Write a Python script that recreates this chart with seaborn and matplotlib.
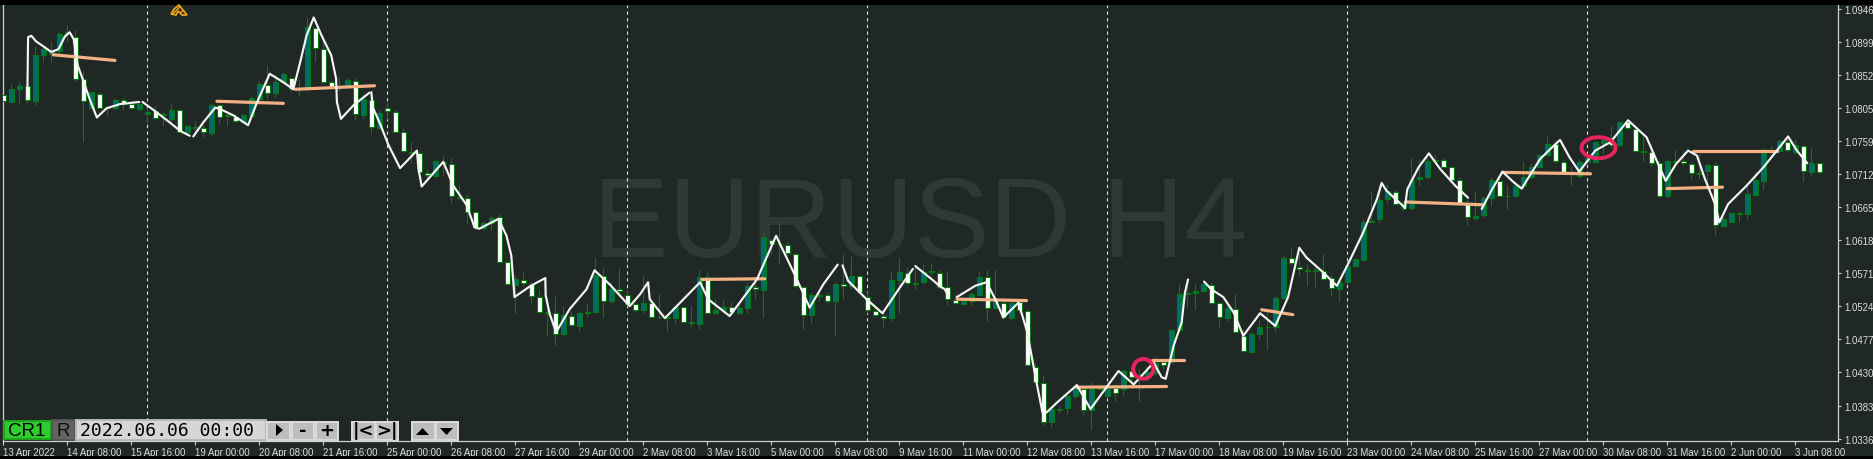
import matplotlib
matplotlib.use("Agg")
import matplotlib.pyplot as plt
import numpy as np
import pandas as pd
import seaborn as sns
from matplotlib.patches import Ellipse, Polygon, Rectangle

W, H = 1873, 460

# EURUSD H4 candles. B = up bar (teal), W = down bar (white)
candle_kind = (
    "WBBWBBBBBW" "WBWBBWWBBW" "BBWBBWBWBW" "BBBWBBWBBW" "WWBBWBWBWW"
    "WBWWBBWBWW" "BBWWBWWWBW" "BWBBBWBWWW" "BWBBBWBBWB" "BWBBWBWBWW"
    "WBBWBWBWWW" "WBBWBBWWWW" "BBBWBWBWWW" "WBBBBWBBBW" "BWBBBWBBBB"
    "BWWBWWBBBB" "BWWWBWWBBB" "BBBBWBBBBB" "WWWWBBBWBB" "BBBBWWBBBB"
    "BWBWWBWWBB" "WWBBWBBBBB" "BBBWBWBW"
)
body_top = [
    1.0824, 1.0833, 1.0836, 1.0836, 1.0881, 1.0889, 1.0888, 1.0911, 1.0913, 1.0906,
    1.0846, 1.0828, 1.0826, 1.0806, 1.0817, 1.0817, 1.0811, 1.0811, 1.0800, 1.0801,
    1.0797, 1.0803, 1.0803, 1.0780, 1.0779, 1.0777, 1.0809, 1.0809, 1.0795, 1.0793,
    1.0795, 1.0819, 1.0839, 1.0838, 1.0842, 1.0853, 1.0848, 1.0833, 1.0920, 1.0919,
    1.0889, 1.0843, 1.0836, 1.0845, 1.0844, 1.0818, 1.0817, 1.0799, 1.0806, 1.0800,
    1.0772, 1.0743, 1.0742, 1.0713, 1.0730, 1.0729, 1.0726, 1.0679, 1.0678, 1.0658,
    1.0642, 1.0649, 1.0650, 1.0587, 1.0562, 1.0561, 1.0555, 1.0537, 1.0516, 1.0514,
    1.0512, 1.0510, 1.0515, 1.0516, 1.0568, 1.0567, 1.0549, 1.0548, 1.0540, 1.0527,
    1.0528, 1.0528, 1.0509, 1.0508, 1.0523, 1.0523, 1.0501, 1.0566, 1.0565, 1.0519,
    1.0523, 1.0523, 1.0521, 1.0552, 1.0551, 1.0622, 1.0618, 1.0613, 1.0611, 1.0598,
    1.0551, 1.0540, 1.0540, 1.0540, 1.0556, 1.0555, 1.0567, 1.0567, 1.0537, 1.0517,
    1.0510, 1.0561, 1.0573, 1.0571, 1.0557, 1.0573, 1.0574, 1.0571, 1.0551, 1.0533,
    1.0532, 1.0541, 1.0566, 1.0565, 1.0534, 1.0529, 1.0529, 1.0530, 1.0517, 1.0438,
    1.0415, 1.0378, 1.0378, 1.0396, 1.0409, 1.0407, 1.0407, 1.0408, 1.0407, 1.0408,
    1.0432, 1.0432, 1.0425, 1.0430, 1.0444, 1.0445, 1.0490, 1.0542, 1.0543, 1.0546,
    1.0555, 1.0554, 1.0528, 1.0522, 1.0520, 1.0482, 1.0485, 1.0495, 1.0495, 1.0536,
    1.0593, 1.0593, 1.0579, 1.0576, 1.0575, 1.0574, 1.0564, 1.0558, 1.0581, 1.0591,
    1.0644, 1.0645, 1.0675, 1.0688, 1.0686, 1.0671, 1.0703, 1.0707, 1.0730, 1.0731,
    1.0732, 1.0721, 1.0703, 1.0670, 1.0652, 1.0678, 1.0703, 1.0702, 1.0681, 1.0695,
    1.0707, 1.0722, 1.0738, 1.0754, 1.0754, 1.0729, 1.0714, 1.0729, 1.0735, 1.0757,
    1.0760, 1.0758, 1.0785, 1.0785, 1.0775, 1.0744, 1.0743, 1.0727, 1.0730, 1.0730,
    1.0730, 1.0726, 1.0713, 1.0725, 1.0725, 1.0648, 1.0656, 1.0656, 1.0683, 1.0703,
    1.0742, 1.0744, 1.0758, 1.0757, 1.0753, 1.0751, 1.0728, 1.0727,
]
body_bottom = [
    1.0816, 1.0814, 1.0833, 1.0817, 1.0816, 1.0881, 1.0882, 1.0887, 1.0910, 1.0846,
    1.0815, 1.0806, 1.0806, 1.0805, 1.0805, 1.0811, 1.0805, 1.0804, 1.0797, 1.0791,
    1.0796, 1.0790, 1.0772, 1.0772, 1.0777, 1.0771, 1.0770, 1.0793, 1.0794, 1.0787,
    1.0786, 1.0794, 1.0818, 1.0827, 1.0827, 1.0842, 1.0832, 1.0832, 1.0833, 1.0890,
    1.0842, 1.0835, 1.0835, 1.0836, 1.0797, 1.0796, 1.0778, 1.0777, 1.0801, 1.0772,
    1.0744, 1.0742, 1.0714, 1.0711, 1.0709, 1.0728, 1.0680, 1.0678, 1.0658, 1.0636,
    1.0635, 1.0642, 1.0587, 1.0555, 1.0554, 1.0557, 1.0538, 1.0516, 1.0515, 1.0484,
    1.0485, 1.0497, 1.0496, 1.0515, 1.0516, 1.0531, 1.0531, 1.0545, 1.0527, 1.0518,
    1.0518, 1.0509, 1.0508, 1.0507, 1.0507, 1.0501, 1.0500, 1.0499, 1.0515, 1.0515,
    1.0518, 1.0516, 1.0515, 1.0521, 1.0548, 1.0547, 1.0613, 1.0612, 1.0599, 1.0552,
    1.0511, 1.0511, 1.0539, 1.0531, 1.0531, 1.0552, 1.0552, 1.0544, 1.0518, 1.0511,
    1.0507, 1.0507, 1.0561, 1.0557, 1.0556, 1.0558, 1.0573, 1.0551, 1.0534, 1.0528,
    1.0527, 1.0532, 1.0540, 1.0521, 1.0521, 1.0508, 1.0507, 1.0518, 1.0440, 1.0417,
    1.0359, 1.0359, 1.0377, 1.0379, 1.0396, 1.0376, 1.0376, 1.0407, 1.0396, 1.0401,
    1.0407, 1.0423, 1.0424, 1.0425, 1.0429, 1.0440, 1.0445, 1.0490, 1.0542, 1.0543,
    1.0546, 1.0529, 1.0508, 1.0507, 1.0488, 1.0460, 1.0459, 1.0485, 1.0494, 1.0494,
    1.0536, 1.0585, 1.0577, 1.0574, 1.0574, 1.0563, 1.0550, 1.0549, 1.0559, 1.0581,
    1.0590, 1.0644, 1.0648, 1.0676, 1.0669, 1.0664, 1.0664, 1.0704, 1.0707, 1.0730,
    1.0722, 1.0703, 1.0671, 1.0650, 1.0649, 1.0654, 1.0678, 1.0681, 1.0680, 1.0681,
    1.0694, 1.0707, 1.0722, 1.0738, 1.0730, 1.0715, 1.0713, 1.0709, 1.0729, 1.0729,
    1.0756, 1.0753, 1.0753, 1.0777, 1.0744, 1.0743, 1.0727, 1.0681, 1.0681, 1.0729,
    1.0727, 1.0713, 1.0712, 1.0716, 1.0639, 1.0638, 1.0644, 1.0655, 1.0655, 1.0682,
    1.0702, 1.0743, 1.0745, 1.0746, 1.0743, 1.0716, 1.0715, 1.0715,
]
highs = [
    1.0830, 1.0839, 1.0844, 1.0839, 1.0894, 1.0894, 1.0899, 1.0913, 1.0923, 1.0917,
    1.0858, 1.0828, 1.0828, 1.0808, 1.0820, 1.0820, 1.0816, 1.0816, 1.0806, 1.0808,
    1.0801, 1.0813, 1.0804, 1.0781, 1.0787, 1.0782, 1.0811, 1.0811, 1.0801, 1.0797,
    1.0797, 1.0823, 1.0844, 1.0866, 1.0854, 1.0856, 1.0850, 1.0846, 1.0935, 1.0920,
    1.0908, 1.0844, 1.0849, 1.0848, 1.0850, 1.0825, 1.0830, 1.0804, 1.0812, 1.0804,
    1.0778, 1.0759, 1.0745, 1.0719, 1.0731, 1.0738, 1.0734, 1.0697, 1.0684, 1.0659,
    1.0645, 1.0653, 1.0655, 1.0588, 1.0569, 1.0572, 1.0558, 1.0548, 1.0537, 1.0538,
    1.0524, 1.0517, 1.0517, 1.0529, 1.0592, 1.0579, 1.0558, 1.0578, 1.0546, 1.0529,
    1.0568, 1.0532, 1.0541, 1.0510, 1.0524, 1.0524, 1.0524, 1.0577, 1.0573, 1.0534,
    1.0534, 1.0532, 1.0529, 1.0558, 1.0565, 1.0630, 1.0620, 1.0642, 1.0615, 1.0600,
    1.0552, 1.0544, 1.0544, 1.0544, 1.0558, 1.0598, 1.0595, 1.0569, 1.0544, 1.0520,
    1.0515, 1.0574, 1.0592, 1.0579, 1.0584, 1.0584, 1.0586, 1.0577, 1.0574, 1.0541,
    1.0536, 1.0544, 1.0574, 1.0576, 1.0577, 1.0532, 1.0532, 1.0532, 1.0520, 1.0444,
    1.0426, 1.0382, 1.0384, 1.0398, 1.0413, 1.0409, 1.0416, 1.0412, 1.0416, 1.0413,
    1.0435, 1.0437, 1.0435, 1.0439, 1.0453, 1.0447, 1.0491, 1.0555, 1.0563, 1.0555,
    1.0559, 1.0558, 1.0530, 1.0525, 1.0541, 1.0492, 1.0487, 1.0504, 1.0520, 1.0538,
    1.0597, 1.0606, 1.0600, 1.0584, 1.0586, 1.0598, 1.0569, 1.0560, 1.0584, 1.0593,
    1.0648, 1.0687, 1.0697, 1.0697, 1.0690, 1.0674, 1.0735, 1.0733, 1.0742, 1.0740,
    1.0734, 1.0723, 1.0708, 1.0676, 1.0688, 1.0681, 1.0707, 1.0708, 1.0695, 1.0700,
    1.0729, 1.0727, 1.0740, 1.0765, 1.0757, 1.0733, 1.0723, 1.0731, 1.0737, 1.0759,
    1.0766, 1.0780, 1.0787, 1.0787, 1.0778, 1.0766, 1.0754, 1.0730, 1.0733, 1.0746,
    1.0745, 1.0729, 1.0740, 1.0728, 1.0729, 1.0650, 1.0658, 1.0658, 1.0695, 1.0714,
    1.0749, 1.0753, 1.0761, 1.0766, 1.0761, 1.0755, 1.0750, 1.0728,
]
lows = [
    1.0813, 1.0812, 1.0812, 1.0813, 1.0808, 1.0871, 1.0871, 1.0884, 1.0899, 1.0842,
    1.0757, 1.0806, 1.0805, 1.0794, 1.0803, 1.0803, 1.0804, 1.0803, 1.0783, 1.0790,
    1.0781, 1.0787, 1.0771, 1.0769, 1.0771, 1.0764, 1.0765, 1.0782, 1.0780, 1.0785,
    1.0784, 1.0792, 1.0816, 1.0818, 1.0819, 1.0839, 1.0828, 1.0823, 1.0830, 1.0872,
    1.0839, 1.0832, 1.0830, 1.0833, 1.0789, 1.0790, 1.0768, 1.0775, 1.0790, 1.0771,
    1.0743, 1.0728, 1.0705, 1.0706, 1.0706, 1.0709, 1.0670, 1.0676, 1.0641, 1.0634,
    1.0632, 1.0632, 1.0585, 1.0554, 1.0513, 1.0552, 1.0529, 1.0515, 1.0482, 1.0469,
    1.0481, 1.0496, 1.0489, 1.0509, 1.0515, 1.0509, 1.0529, 1.0539, 1.0524, 1.0516,
    1.0515, 1.0508, 1.0506, 1.0489, 1.0499, 1.0500, 1.0495, 1.0490, 1.0514, 1.0513,
    1.0515, 1.0513, 1.0513, 1.0513, 1.0534, 1.0509, 1.0598, 1.0584, 1.0595, 1.0551,
    1.0491, 1.0500, 1.0532, 1.0529, 1.0482, 1.0534, 1.0549, 1.0543, 1.0515, 1.0509,
    1.0495, 1.0503, 1.0515, 1.0554, 1.0549, 1.0555, 1.0568, 1.0548, 1.0524, 1.0527,
    1.0525, 1.0524, 1.0538, 1.0501, 1.0520, 1.0506, 1.0506, 1.0515, 1.0439, 1.0413,
    1.0354, 1.0353, 1.0372, 1.0371, 1.0394, 1.0369, 1.0349, 1.0405, 1.0394, 1.0390,
    1.0397, 1.0409, 1.0388, 1.0418, 1.0427, 1.0435, 1.0443, 1.0488, 1.0522, 1.0520,
    1.0544, 1.0528, 1.0494, 1.0503, 1.0487, 1.0459, 1.0458, 1.0477, 1.0463, 1.0487,
    1.0534, 1.0584, 1.0567, 1.0553, 1.0551, 1.0562, 1.0539, 1.0532, 1.0557, 1.0579,
    1.0588, 1.0643, 1.0642, 1.0670, 1.0667, 1.0659, 1.0661, 1.0695, 1.0705, 1.0728,
    1.0721, 1.0702, 1.0670, 1.0640, 1.0647, 1.0651, 1.0666, 1.0680, 1.0661, 1.0679,
    1.0691, 1.0705, 1.0720, 1.0737, 1.0728, 1.0714, 1.0696, 1.0706, 1.0727, 1.0727,
    1.0740, 1.0749, 1.0752, 1.0776, 1.0743, 1.0730, 1.0723, 1.0678, 1.0678, 1.0726,
    1.0724, 1.0705, 1.0705, 1.0690, 1.0625, 1.0636, 1.0643, 1.0644, 1.0648, 1.0681,
    1.0690, 1.0740, 1.0743, 1.0744, 1.0740, 1.0702, 1.0709, 1.0712,
]

# hand drawn white line on the chart, (bar number, price), broken where the pen lifted
sketch_1 = [(3.0, 1.0818), (3.1, 1.0906), (3.5, 1.0908), (4.1, 1.0900), (5.0, 1.0893), (6.0, 1.0885),
            (6.9, 1.0889), (7.7, 1.0907), (8.3, 1.0913), (8.8, 1.0903), (9.3, 1.0866), (10.0, 1.0844),
            (10.8, 1.0818), (11.7, 1.0792), (12.9, 1.0805), (14.6, 1.0811), (17.0, 1.0814)]
sketch_2 = [(17.4, 1.0814), (19.2, 1.0799), (20.8, 1.0785), (22.1, 1.0773), (23.3, 1.0766)]
sketch_3 = [(23.75, 1.0765), (25.0, 1.0785), (26.5, 1.0806), (27.1, 1.0804), (28.75, 1.0795), (30.6, 1.0781),
            (31.7, 1.0813), (33.3, 1.0854), (35.0, 1.0842), (36.25, 1.0832), (37.1, 1.0870), (37.9, 1.0908),
            (38.8, 1.0934), (39.8, 1.0908), (41.0, 1.0880), (41.6, 1.0847), (41.7, 1.0814), (42.2, 1.0790),
            (43.75, 1.0809), (45.75, 1.0827)]
sketch_4 = [(46.0, 1.0828), (46.2, 1.0806), (47.1, 1.0783), (48.1, 1.0754), (49.6, 1.0720), (51.7, 1.0745),
            (51.9, 1.0719), (52.3, 1.0694), (55.0, 1.0729), (56.25, 1.0695), (57.9, 1.0668), (58.9, 1.0636),
            (59.5, 1.0634), (61.9, 1.0648), (62.9, 1.0624), (63.5, 1.0596), (63.9, 1.0537), (65.8, 1.0552),
            (67.75, 1.0564), (67.8, 1.0539), (68.3, 1.0513), (69.1, 1.0487), (70.8, 1.0520), (72.9, 1.0548),
            (73.9, 1.0575), (75.8, 1.0555), (78.3, 1.0524), (79.6, 1.0541), (80.6, 1.0558), (80.8, 1.0534),
            (82.7, 1.0507), (87.1, 1.0558), (88.1, 1.0534), (90.8, 1.0510), (94.2, 1.0562), (96.6, 1.0624),
            (99.0, 1.0567), (100.8, 1.0522), (102.5, 1.0555), (104.3, 1.0583)]
sketch_5 = [(104.9, 1.0582), (105.6, 1.0560), (107.9, 1.0534), (109.9, 1.0514), (112.1, 1.0551), (113.7, 1.0577)]
sketch_6 = [(114.0, 1.0581), (116.3, 1.0560), (117.1, 1.0552), (117.7, 1.0548), (118.1, 1.0539)]
sketch_7 = [(119.2, 1.0537), (121.5, 1.0553), (122.9, 1.0558), (124.0, 1.0534), (125.0, 1.0508), (126.9, 1.0529),
            (128.0, 1.0487), (129.0, 1.0425), (129.9, 1.0373), (130.4, 1.0373), (131.7, 1.0387), (134.2, 1.0412),
            (135.9, 1.0378), (139.4, 1.0432), (141.3, 1.0413), (143.8, 1.0444), (144.8, 1.0423), (145.3, 1.0421),
            (146.3, 1.0468), (147.3, 1.0501), (147.7, 1.0543), (148.1, 1.0562)]
sketch_8 = [(150.1, 1.0559), (151.0, 1.0548), (152.5, 1.0537), (153.8, 1.0515), (155.0, 1.0482), (157.1, 1.0514),
            (159.0, 1.0496), (160.6, 1.0537), (162.0, 1.0607), (162.9, 1.0593), (164.8, 1.0574), (166.7, 1.0553),
            (168.1, 1.0584), (170.0, 1.0629), (171.7, 1.0676), (172.3, 1.0699), (172.9, 1.0688), (175.2, 1.0664)]
sketch_9 = [(175.2, 1.0663), (175.5, 1.0690), (176.9, 1.0721), (178.2, 1.0741), (179.6, 1.0719), (181.5, 1.0695),
            (183.1, 1.0678)]
sketch_10 = [(184.8, 1.0662), (186.0, 1.0688), (187.4, 1.0715), (188.8, 1.0700), (189.8, 1.0691), (192.1, 1.0733),
             (194.0, 1.0754), (194.6, 1.0760), (195.8, 1.0735), (197.0, 1.0715), (199.0, 1.0745), (200.9, 1.0757),
             (203.1, 1.0788), (205.4, 1.0764), (206.7, 1.0730), (207.8, 1.0702), (209.1, 1.0726), (210.6, 1.0745),
             (211.7, 1.0738), (212.7, 1.0705), (214.0, 1.0668), (214.5, 1.0643), (215.6, 1.0669), (217.9, 1.0695),
             (220.0, 1.0721), (221.7, 1.0745), (223.1, 1.0765), (224.2, 1.0745), (225.5, 1.0727)]
sketches = [sketch_1, sketch_2, sketch_3, sketch_4, sketch_5, sketch_6, sketch_7, sketch_8, sketch_9, sketch_10]

# orange levels: bar start, bar end, price start, price end
level_start = [6.25, 26.7, 36.5, 87.3, 119.25, 134.2, 143.55, 157.3, 175.3, 187.4, 208.0, 211.25]
level_end = [13.96, 35.0, 46.4, 95.2, 127.9, 145.4, 147.6, 161.2, 185.0, 198.4, 214.9, 221.7]
level_price0 = [1.0881, 1.0815, 1.0832, 1.0562, 1.0534, 1.0409, 1.0447, 1.0519, 1.0672, 1.0714, 1.0691, 1.0745]
level_price1 = [1.0873, 1.0812, 1.0837, 1.0563, 1.0532, 1.0410, 1.0447, 1.0512, 1.0668, 1.0712, 1.0693, 1.0745]

# pink rings: bar, price, width in bars, height in price
ring_bar = [142.5, 199.4]
ring_price = [1.0435, 1.0749]
ring_width = [2.5, 4.25]
ring_height = [0.0028, 0.0030]

price_ticks = [1.0946, 1.0899, 1.0852, 1.0805, 1.0759, 1.0712, 1.0665, 1.0618, 1.0571, 1.0524, 1.0477, 1.0430, 1.0383, 1.0336]
time_labels = ["13 Apr 2022", "14 Apr 08:00", "15 Apr 16:00", "19 Apr 00:00", "20 Apr 08:00", "21 Apr 16:00",
               "25 Apr 00:00", "26 Apr 08:00", "27 Apr 16:00", "29 Apr 00:00", "2 May 08:00", "3 May 16:00",
               "5 May 00:00", "6 May 08:00", "9 May 16:00", "11 May 00:00", "12 May 08:00", "13 May 16:00",
               "17 May 00:00", "18 May 08:00", "19 May 16:00", "23 May 00:00", "24 May 08:00", "25 May 16:00",
               "27 May 00:00", "30 May 08:00", "31 May 16:00", "2 Jun 00:00", "3 Jun 08:00"]
separator_bars = [18, 48, 78, 108, 138, 168, 198]

BG = "#1f2824"
AXIS = "#cfcfcf"
GREEN = "#067a10"
TEAL = "#006f6a"
ORANGE = "#f4b183"
PINK = "#e8245f"

sns.set_theme(style="dark")
plt.rcParams["font.family"] = ["Liberation Sans", "DejaVu Sans"]

fig = plt.figure(figsize=(W / 100, H / 100), dpi=100, facecolor=BG)
ax = fig.add_axes([2.5 / W, 1 - 442 / H, (1838 - 2.5) / W, (442 - 5.7) / H], zorder=1)
ax.patch.set_alpha(0)
ax.grid(False)


def box(x0, y0, x1, y1, color, edge=None, z=10):
    # chart furniture is placed in image pixels, y measured from the top
    fig.add_artist(Rectangle((x0 / W, 1 - y1 / H), (x1 - x0) / W, (y1 - y0) / H, transform=fig.transFigure,
                             facecolor=color, edgecolor=edge or color, linewidth=1.4 if edge else 0, zorder=z))


def label(x, y, s, color="black", size=12, **kw):
    fig.text(x / W, 1 - y / H, s, color=color, fontsize=size, ha="center", va="center", zorder=11, **kw)


def poly(points, **kw):
    fig.add_artist(Polygon([(x / W, 1 - y / H) for x, y in points], transform=fig.transFigure, zorder=11, **kw))


# watermark sits under the axes
fig.text(920 / W, 1 - 257 / H, "EURUSD H4", color="#2e3834", fontsize=81.5, ha="center", va="baseline", zorder=0.5)

# separators
for b in separator_bars:
    ax.axvline(b, color="#dcdcdc", lw=0.8, ls=(0, (3, 3)), zorder=1)

# candles
bars = np.arange(len(body_top))
top = np.array(body_top)
bottom = np.array(body_bottom)
fills = ["white" if k == "W" else TEAL for k in candle_kind]
ax.vlines(bars, lows, highs, color=GREEN, lw=0.8, zorder=2)
ax.bar(bars, top - bottom, bottom=bottom, width=0.62, color=fills, edgecolor=GREEN, linewidth=0.8, zorder=3)

# orange levels
level_df = pd.DataFrame({
    "bar": level_start + level_end,
    "price": level_price0 + level_price1,
    "level": list(range(len(level_start))) * 2,
})
sns.lineplot(data=level_df, x="bar", y="price", units="level", estimator=None, sort=False,
             color=ORANGE, lw=2.3, ax=ax, zorder=4, legend=False)

# white sketch
sketch_df = pd.DataFrame([(i, b, p) for i, s in enumerate(sketches) for b, p in s], columns=["seg", "bar", "price"])
sns.lineplot(data=sketch_df, x="bar", y="price", units="seg", estimator=None, sort=False,
             color="#f4f4f4", lw=1.55, ax=ax, zorder=5, legend=False)

for b, p, w, h in zip(ring_bar, ring_price, ring_width, ring_height):
    ax.add_patch(Ellipse((b, p), w, h, fill=False, edgecolor=PINK, lw=2.8, zorder=6))

# axes
ax.set_xlabel("")
ax.set_ylabel("")
ax.set_xlim(-0.1, 229.34)
ax.set_ylim(1.03326, 1.09521)
for side in ["left", "right", "bottom"]:
    ax.spines[side].set_visible(True)
    ax.spines[side].set_color(AXIS)
    ax.spines[side].set_linewidth(0.9)
ax.spines["top"].set_visible(False)
ax.yaxis.tick_right()
ax.set_yticks(price_ticks)
ax.set_yticklabels([f"{v:.4f}" for v in price_ticks])
ax.set_xticks(np.arange(len(time_labels)) * 8)
ax.set_xticklabels(time_labels, ha="left")
ax.tick_params(axis="y", length=2, width=0.8, color=AXIS, labelcolor="#dcdcdc", labelsize=6.9, pad=2.6, right=True)
ax.tick_params(axis="x", length=3, width=0.8, color=AXIS, labelcolor="#dcdcdc", labelsize=6.9, pad=1, bottom=True)

# black bands of the screenshot
box(0, 0, W, 5.7, "black")
box(0, 456.5, W, H, "black")

# tester toolbar
box(4, 422, 51, 440, "#2ecc2e", "#1fa51f")
label(27, 431.5, "CR1", size=13.5)
box(52, 421, 75, 441, "#636363", "#555555")
label(63.5, 431.5, "R", size=13.5, color="#101010")
box(76, 421, 266, 441, "#d6d6d6", "#b8b8b8")
label(167.5, 431.5, "2022.06.06 00:00", size=13.1, family="DejaVu Sans Mono", weight="medium")
for x0, x1, s in [(267, 290, ""), (292, 314, "-"), (316, 338, "+"), (352, 375, "|<"), (376, 398, ">|"), (412, 435, ""), (436, 458, "")]:
    box(x0, 422.5, x1, 440.5, "#bdbdbd", "#dcdcdc")
    if s:
        label((x0 + x1) / 2, 431, s, size=13, weight="bold", family="DejaVu Sans")

poly([(276, 425), (276, 437), (283, 431)], facecolor="black", edgecolor="none")
poly([(416, 436), (429, 436), (422.5, 429)], facecolor="black", edgecolor="none")
poly([(440, 429), (453, 429), (446.5, 436)], facecolor="black", edgecolor="none")

# orange pencil icon at the top
poly([(171, 15), (174, 10), (179, 6), (187, 16), (182, 16), (178, 12), (176, 16)],
     facecolor="#3a3018", edgecolor="#f2a31b", lw=1.2, hatch="/////")

fig.savefig("out.png", dpi=100, facecolor=BG)
